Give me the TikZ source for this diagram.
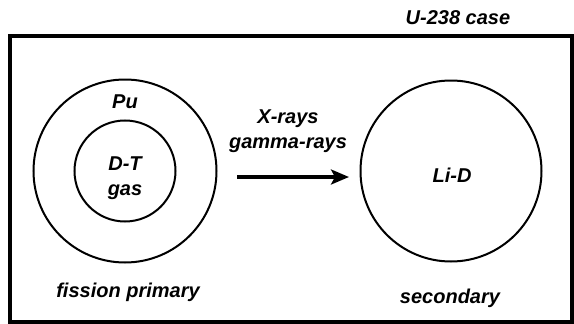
\documentclass[tikz,border=0pt]{standalone}
\usepackage{fontspec}
\setmainfont{Liberation Sans}
\usetikzlibrary{positioning}
\usetikzlibrary{arrows.meta}

\begin{document}
\begin{tikzpicture}[
    x=1pt, y=-1pt,
    testo/.style={font=\fontsize{20}{25}\selectfont\bfseries\itshape,
                  inner sep=0pt, align=center},
    cerchio/.style={draw, circle, line width=2pt, inner sep=0pt},
    freccia/.style={line width=3.2pt,
                    -{Stealth[length=18pt,width=15pt,inset=4pt]}}]
    \useasboundingbox (0,0) rectangle (574,324);

    % Involucro esterno
    \draw[line width=3.2pt] (10,36) rectangle (572,322);
    \node[testo] (involucro) at (458,18) {U-238 case};

    % Primario a fissione
    \node[cerchio, minimum size=183pt] (primario) at (125,171) {};
    \node[cerchio, minimum size=101pt] (nucleo) at (primario.center) {};
    \node[testo, below=16pt of primario.north] (pu) {Pu};
    \node[testo] (dt) at (125,178) {D-T\\gas};
    \node[testo, below=19pt of primario.south, xshift=3pt] (lprimario) {fission primary};

    % Secondario
    \node[cerchio, minimum size=181pt, right=142pt of primario] (secondario) {};
    \node[testo] (lid) at (452,175) {Li-D};
    \node[testo] (lsecondario) at (450,298) {secondary};

    % Radiazione dal primario al secondario
    \coordinate (da) at (237,177);
    \coordinate (a) at (349,177);
    \draw[freccia] (da) -- (a);
    \node[testo] (raggi) at (288,131) {X-rays\\gamma-rays};
\end{tikzpicture}
\end{document}
